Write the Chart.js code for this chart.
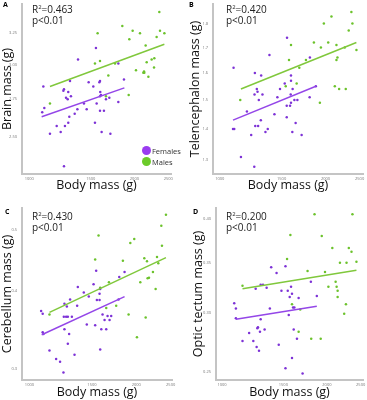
<!DOCTYPE html>
<html>
<head>
<meta charset="utf-8">
<script src="https://cdn.jsdelivr.net/npm/chart.js@4.4.0/dist/chart.umd.min.js"></script>
<style>
    body { margin: 0; background: #fff; font-family: 'Open Sans', sans-serif; }
    #wrap { position: relative; width: 367px; height: 400px; overflow: hidden; }
    canvas { position: absolute; }
    .tag { position: absolute; font-weight: bold; font-size: 7px; line-height: 8px; color: #000; }
    .stat { position: absolute; font-size: 10px; line-height: 11px; color: #222; }
    .stat sup { font-size: 6px; line-height: 0; vertical-align: 4px; }
    .dot { position: absolute; width: 9px; height: 9px; border-radius: 50%; }
    .key { position: absolute; font-size: 7.5px; line-height: 10px; color: #333; }
</style>
</head>
<body>
<div id="wrap">
    <canvas id="chartA" width="184" height="200" style="left:0;top:0"></canvas>
    <canvas id="chartB" width="183" height="200" style="left:184px;top:0"></canvas>
    <canvas id="chartC" width="184" height="200" style="left:0;top:200px"></canvas>
    <canvas id="chartD" width="183" height="200" style="left:184px;top:200px"></canvas>

    <div class="tag" style="left:3px;top:1px">A</div>
    <div class="tag" style="left:189px;top:1px">B</div>
    <div class="tag" style="left:5px;top:208px">C</div>
    <div class="tag" style="left:193px;top:208px">D</div>

    <div class="stat" style="left:32px;top:4px">R<sup>2</sup>=0.463<br>p&lt;0.01</div>
    <div class="stat" style="left:226px;top:4px">R<sup>2</sup>=0.420<br>p&lt;0.01</div>
    <div class="stat" style="left:32px;top:211px">R<sup>2</sup>=0.430<br>p&lt;0.01</div>
    <div class="stat" style="left:226px;top:211px">R<sup>2</sup>=0.200<br>p&lt;0.01</div>

    <div class="dot" style="left:142px;top:146px;background:#9a3cf0"></div>
    <div class="key" style="left:152px;top:146px">Females</div>
    <div class="dot" style="left:142px;top:157px;background:#6ccb2a"></div>
    <div class="key" style="left:152px;top:157px">Males</div>
</div>

<script>
// x axis (all panels)
const bodyTicks = ['1000', '1500', '2000', '2500'];

// A: brain mass
const brainTicks = ['2.50', '2.75', '3.00', '3.25'];
const brainFemBody = [1097,1089,1104,1146,1198,1230,1257,1252,1293,1274,1288,1316,1308,1265,1293,1302,1349,1373,1379,1434,1460,1479,1525,1552,1542,1559,1587,1594,1597,1604,1594,1594,1611,1636,1658,1695,1707,1257,1799,1799,1867];
const brainFemMass = [2.84,2.66,2.69,2.52,2.57,2.53,2.82,2.81,2.80,2.76,2.75,2.77,2.88,2.57,2.59,2.63,2.65,2.68,3.04,2.72,2.68,2.87,2.84,3.13,2.59,2.72,2.87,2.88,2.80,2.78,2.77,2.67,2.53,2.67,2.75,2.76,2.52,2.32,3.01,2.73,2.89];
const brainMaleBody = [1146,1569,1542,1594,1684,1658,1760,1847,1926,1934,1977,2021,2075,2131,2135,2154,2169,2193,2241,2276,2281,2316,2357,2368,2437,2121];
const brainMaleMass = [2.72,3.25,3.01,3.03,2.92,2.77,3.01,3.31,2.78,3.20,3.27,2.96,3.25,2.95,2.94,3.15,3.02,2.91,3.04,2.98,3.05,3.22,3.43,3.27,3.25,2.94];
const brainFemFitBody = [1085, 1872];
const brainFemFitMass = [2.63, 2.83];
const brainMaleFitBody = [1146, 2437];
const brainMaleFitMass = [2.84, 3.16];

// B: telencephalon mass
const telTicks = ['1.3', '1.4', '1.5', '1.6', '1.7', '1.8'];
const telFemBody = [1095,1091,1100,1149,1195,1229,1254,1259,1262,1275,1281,1256,1292,1286,1312,1323,1309,1349,1370,1385,1431,1459,1484,1531,1554,1551,1551,1585,1592,1595,1595,1595,1609,1612,1631,1663,1644,1710,1805,1802,1877];
const telFemMass = [1.62,1.40,1.40,1.31,1.46,1.38,1.28,1.60,1.41,1.54,1.53,1.52,1.50,1.41,1.59,1.52,1.43,1.39,1.40,1.67,1.45,1.51,1.54,1.56,1.74,1.48,1.44,1.48,1.52,1.57,1.59,1.49,1.39,1.54,1.50,1.50,1.42,1.38,1.66,1.51,1.55];
const telMaleBody = [1144,1541,1574,1595,1655,1684,1759,1853,1927,1940,1978,2035,2079,2125,2148,2148,2162,2186,2283,2268,2328,2369,2385,2448];
const telMaleMass = [1.50,1.55,1.65,1.71,1.56,1.62,1.65,1.72,1.49,1.70,1.80,1.72,1.83,1.55,1.71,1.65,1.66,1.54,1.54,1.70,1.77,1.85,1.80,1.69];
const telFemFitBody = [1091, 1877];
const telFemFitMass = [1.43, 1.55];
const telMaleFitBody = [1149, 2448];
const telMaleFitMass = [1.54, 1.72];

// C: cerebellum mass
const cerTicks = ['0.3', '0.4', '0.5'];
const cerFemBody = [1079,1090,1090,1095,1139,1189,1220,1247,1255,1250,1269,1255,1275,1283,1294,1283,1302,1317,1340,1363,1369,1423,1451,1470,1516,1532,1542,1549,1576,1576,1583,1583,1594,1607,1628,1646,1660,1682,1700,1783,1791,1854];
const cerFemMass = [0.371,0.367,0.343,0.341,0.321,0.311,0.308,0.296,0.381,0.363,0.363,0.347,0.377,0.363,0.341,0.329,0.387,0.363,0.316,0.378,0.405,0.397,0.353,0.391,0.409,0.352,0.430,0.386,0.386,0.395,0.402,0.322,0.347,0.366,0.359,0.347,0.364,0.359,0.364,0.387,0.420,0.428];
const cerMaleBody = [1139,1532,1566,1583,1646,1675,1756,1834,1903,1924,1974,2009,2053,2107,2126,2144,2153,2172,2229,2268,2288,2307,2353,2363,2425];
const cerMaleMass = [0.366,0.448,0.489,0.404,0.375,0.412,0.378,0.446,0.366,0.476,0.483,0.337,0.412,0.450,0.362,0.445,0.418,0.419,0.428,0.402,0.452,0.442,0.507,0.471,0.528];
const cerFemFitBody = [1083, 1854];
const cerFemFitMass = [0.340, 0.391];
const cerMaleFitBody = [1139, 2425];
const cerMaleFitMass = [0.369, 0.451];

// D: optic tectum mass
const optTicks = ['0.25', '0.30', '0.35', '0.40'];
const optFemBody = [1084,1096,1096,1145,1196,1230,1249,1257,1268,1263,1277,1285,1291,1291,1311,1325,1343,1372,1384,1434,1455,1481,1521,1521,1544,1554,1564,1578,1588,1588,1599,1613,1606,1641,1659,1703,1799,1871];
const optFemMass = [0.309,0.304,0.295,0.275,0.282,0.275,0.323,0.270,0.287,0.286,0.267,0.283,0.294,0.327,0.327,0.285,0.324,0.304,0.345,0.339,0.272,0.321,0.346,0.253,0.321,0.298,0.315,0.325,0.261,0.318,0.305,0.305,0.285,0.277,0.314,0.249,0.330,0.316];
const optMaleBody = [1145,1537,1571,1588,1659,1677,1760,1803,1843,1920,1933,1975,2020,2073,2119,2133,2147,2147,2180,2242,2268,2277,2312,2353,2368,2431];
const optMaleMass = [0.326,0.354,0.381,0.308,0.283,0.303,0.341,0.277,0.406,0.277,0.380,0.340,0.325,0.366,0.330,0.325,0.321,0.315,0.350,0.299,0.308,0.350,0.366,0.362,0.406,0.351];
const optFemFitBody = [1096, 1871];
const optFemFitMass = [0.294, 0.306];
const optMaleFitBody = [1145, 2431];
const optMaleFitMass = [0.323, 0.342];

const purpleDot = '#7d32d6';
const greenDot = '#6cc22c';
const purpleLine = '#9446e8';
const greenLine = '#80c83c';
const axisGrey = '#c4c4c4';

Chart.defaults.font.family = "'Open Sans', sans-serif";

function pairs(xs, ys) {
    return xs.map((x, i) => ({ x: x, y: ys[i] }));
}

// tiny tick labels, placed with the chart's own scales
const tickText = {
    id: 'tickText',
    afterDraw(chart, args, opts) {
        const ctx = chart.ctx;
        const a = chart.chartArea;
        ctx.save();
        ctx.font = "4px 'Open Sans', sans-serif";
        ctx.fillStyle = '#777';
        ctx.textAlign = 'center';
        ctx.textBaseline = 'top';
        bodyTicks.forEach(t => ctx.fillText(t, chart.scales.x.getPixelForValue(parseFloat(t)), a.bottom + 2.5));
        ctx.textAlign = 'right';
        ctx.textBaseline = 'middle';
        opts.labels.forEach(t => ctx.fillText(t, a.left - 5, chart.scales.y.getPixelForValue(parseFloat(t))));
        ctx.restore();
    }
};

function drawPanel(id, p) {
    const ctx = document.getElementById(id).getContext('2d');
    return new Chart(ctx, {
        type: 'scatter',
        data: {
            datasets: [
                { data: pairs(p.femFitX, p.femFitY), showLine: true, borderColor: purpleLine, borderWidth: 1.5, pointRadius: 0 },
                { data: pairs(p.maleFitX, p.maleFitY), showLine: true, borderColor: greenLine, borderWidth: 1.5, pointRadius: 0 },
                { data: pairs(p.femX, p.femY), pointRadius: 1.25, backgroundColor: purpleDot, borderWidth: 0 },
                { data: pairs(p.maleX, p.maleY), pointRadius: 1.25, backgroundColor: greenDot, borderWidth: 0 }
            ]
        },
        options: {
            responsive: false,
            animation: false,
            layout: { padding: { top: p.top, right: p.right, left: 0, bottom: 0 } },
            plugins: { legend: { display: false }, tooltip: { enabled: false }, tickText: { labels: p.yTicks } },
            scales: {
                x: {
                    type: 'logarithmic',
                    min: p.xMin, max: p.xMax,
                    grid: { display: false },
                    border: { color: axisGrey, width: 2 },
                    ticks: { display: false },
                    afterFit: s => { s.height = p.xh; },
                    title: { display: true, text: 'Body mass (g)', color: '#111', font: { size: 12.5 },
                             padding: { top: 0, bottom: p.xPad } }
                },
                y: {
                    type: 'logarithmic',
                    min: p.yMin, max: p.yMax,
                    grid: { display: false },
                    border: { color: axisGrey, width: 2 },
                    ticks: { display: false },
                    afterFit: s => { s.width = p.yw; },
                    title: { display: true, text: p.yTitle, color: '#111', font: { size: 12.5 },
                             padding: { top: p.yPad, bottom: 0 } }
                }
            }
        },
        plugins: [tickText]
    });
}

drawPanel('chartA', {
    femX: brainFemBody, femY: brainFemMass, maleX: brainMaleBody, maleY: brainMaleMass,
    femFitX: brainFemFitBody, femFitY: brainFemFitMass, maleFitX: brainMaleFitBody, maleFitY: brainMaleFitMass,
    yTicks: brainTicks, yTitle: 'Brain mass (g)',
    xMin: 953, xMax: 2546, yMin: 2.275, yMax: 3.50,
    top: 0, right: 13, yw: 22, xh: 26, yPad: 0, xPad: 7.5
});

drawPanel('chartB', {
    femX: telFemBody, femY: telFemMass, maleX: telMaleBody, maleY: telMaleMass,
    femFitX: telFemFitBody, femFitY: telFemFitMass, maleFitX: telMaleFitBody, maleFitY: telMaleFitMass,
    yTicks: telTicks, yTitle: 'Telencephalon mass (g)',
    xMin: 957, xMax: 2556, yMin: 1.258, yMax: 1.885,
    top: 0, right: 3, yw: 29, xh: 26, yPad: 4, xPad: 7.5
});

drawPanel('chartC', {
    femX: cerFemBody, femY: cerFemMass, maleX: cerMaleBody, maleY: cerMaleMass,
    femFitX: cerFemFitBody, femFitY: cerFemFitMass, maleFitX: cerMaleFitBody, maleFitY: cerMaleFitMass,
    yTicks: cerTicks, yTitle: 'Cerebellum mass (g)',
    xMin: 953, xMax: 2522, yMin: 0.288, yMax: 0.541,
    top: 8, right: 12, yw: 22, xh: 20, yPad: 0, xPad: 0
});

drawPanel('chartD', {
    femX: optFemBody, femY: optFemMass, maleX: optMaleBody, maleY: optMaleMass,
    femFitX: optFemFitBody, femFitY: optFemFitMass, maleFitX: optMaleFitBody, maleFitY: optMaleFitMass,
    yTicks: optTicks, yTitle: 'Optic tectum mass (g)',
    xMin: 961, xMax: 2539, yMin: 0.244, yMax: 0.414,
    top: 8, right: 3, yw: 32, xh: 20, yPad: 7, xPad: 0
});
</script>
</body>
</html>
